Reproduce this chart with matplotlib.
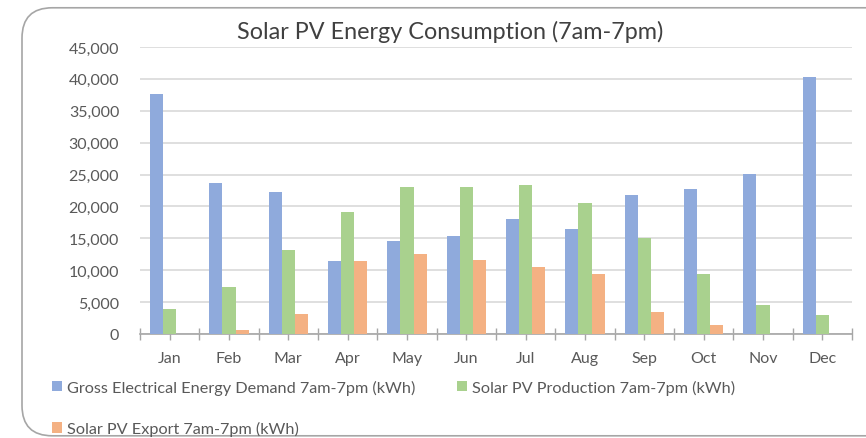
import numpy as np
import matplotlib.pyplot as plt
from matplotlib.patches import FancyBboxPatch
from matplotlib.ticker import FuncFormatter, FixedLocator

plt.rcParams['font.family'] = ['Lato', 'DejaVu Sans']

meses = ['Jan', 'Feb', 'Mar', 'Apr', 'May', 'Jun', 'Jul', 'Aug', 'Sep', 'Oct', 'Nov', 'Dec']
demanda = [37700, 23700, 22300, 11400, 14600, 15400, 18000, 16500, 21800, 22700, 25100, 40300]
produccion = [3900, 7400, 13200, 19100, 23000, 23000, 23400, 20500, 15000, 9400, 4500, 3000]
exportacion = [0, 600, 3100, 11400, 12500, 11600, 10500, 9400, 3400, 1400, 0, 0]

series = [
    ('Gross Electrical Energy Demand 7am-7pm (kWh)', demanda, '#8faadc'),
    ('Solar PV Production 7am-7pm (kWh)', produccion, '#a9d18e'),
    ('Solar PV Export 7am-7pm (kWh)', exportacion, '#f4b183'),
]

fig = plt.figure(figsize=(8.66, 4.39), dpi=100)

# marco redondeado del grafico
marco = FancyBboxPatch((22 / 866, 0.005), 1.1, 0.975, boxstyle='round,pad=0,rounding_size=0.035',
                       transform=fig.transFigure, fc='none', ec='#a6a6a6', lw=1.2, zorder=-1,
                       mutation_aspect=866 / 439)
fig.patches.append(marco)

ax = fig.add_axes([140 / 866, 1 - 335 / 439, 712 / 866, 287 / 439])
ax.set_facecolor('none')

x = np.arange(len(meses))
ancho = 0.22
barras = []
for i, (nombre, valores, color) in enumerate(series):
    b = ax.bar(x + (i - 1) * ancho, valores, ancho, color=color, label=nombre, zorder=3)
    barras.append(b)

ax.set_xlim(-0.5, len(meses) - 0.5)
ax.set_ylim(0, 45000)
ax.set_yticks(np.arange(0, 45001, 5000))
ax.yaxis.set_major_formatter(FuncFormatter(lambda v, p: f'{int(v):,}'))
ax.grid(axis='y', color='#d9d9d9', lw=1.2, zorder=0)

ax.xaxis.set_major_locator(FixedLocator(np.arange(-0.5, len(meses), 1)))
ax.xaxis.set_minor_locator(FixedLocator(x))
ax.set_xticklabels([])
ax.set_xticklabels(meses, minor=True)
ax.tick_params(axis='x', which='major', direction='inout', length=8, width=1, color='#a6a6a6')
ax.tick_params(axis='x', which='minor', direction='out', length=4, width=1, color='#a6a6a6',
               labelsize=11.5, labelcolor='#595959', pad=8)
ax.tick_params(axis='y', length=0, labelsize=11.5, labelcolor='#595959', pad=15)

for lado in ['top', 'right', 'left']:
    ax.spines[lado].set_visible(False)
ax.spines['bottom'].set_color('#a6a6a6')
ax.spines['bottom'].set_linewidth(1.2)

fig.text(450 / 866, 1 - 32 / 439, 'Solar PV Energy Consumption (7am-7pm)', ha='center', va='center',
         fontsize=16.8, color='#404040')

# orden para que la leyenda quede por filas
handles = [barras[0], barras[2], barras[1]]
etiquetas = [series[0][0], series[2][0], series[1][0]]
fig.legend(handles, etiquetas, ncol=2, loc='upper left', bbox_to_anchor=(52 / 866, 1 - 381 / 439),
           frameon=False, fontsize=11.7, labelcolor='#595959', handlelength=0.6, handleheight=0.6,
           handletextpad=0.3, columnspacing=2.6, labelspacing=1.6, borderaxespad=0, borderpad=0)

fig.savefig('out.png', dpi=100)
